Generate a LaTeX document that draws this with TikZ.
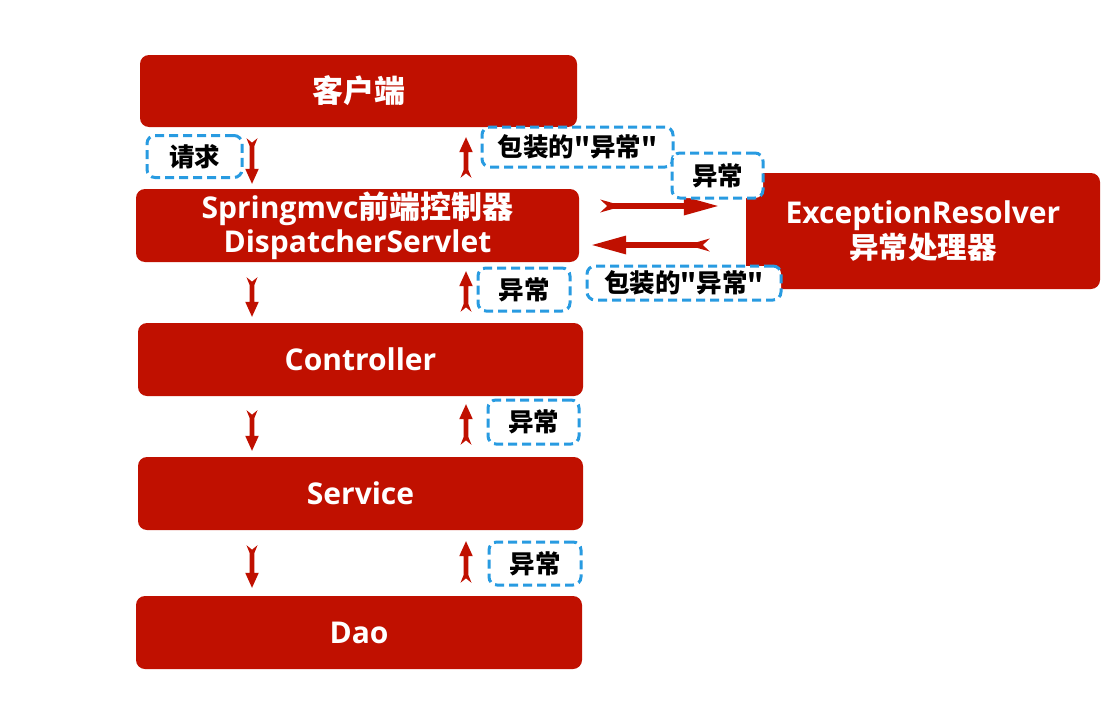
\documentclass[tikz,border=0pt]{standalone}
\usepackage{fontspec}
\setmainfont{Open Sans}
\newfontfamily\cjk{Noto Sans CJK SC}
\usetikzlibrary{calc}
\definecolor{boxred}{RGB}{192,16,0}
\definecolor{dashblue}{RGB}{40,155,225}
% points of a notched arrow, measured from the start (pA) or from the end (pB)
\newcommand\pA[2]{($(\tikztostart)!#1!(\tikztotarget)!#2!90:(\tikztotarget)$)}
\newcommand\pB[2]{($(\tikztotarget)!#1!(\tikztostart)!#2!-90:(\tikztostart)$)}
\begin{document}
\begin{tikzpicture}[x=1pt,y=-1pt,
  box/.style={fill=boxred, rounded corners=9pt, text=white, font=\bfseries\fontsize{30}{34}\selectfont, align=center, inner sep=0pt},
  lab/.style={draw=dashblue, line width=3pt, dash pattern=on 9pt off 5pt, rounded corners=8pt, fill=white, text=black, font=\cjk\bfseries\fontsize{25.5}{28}\selectfont, inner sep=0pt},
  ss/.store in=\ars, se/.store in=\are,
  hl/.store in=\arhl, hw/.store in=\arhw, wt/.store in=\arwt, wz/.store in=\arwz,
  tl/.store in=\artl, nd/.store in=\arnd,
  notched/.style={fill=boxred, to path={
     \pA{\ars+\arnd}{0pt} -- \pA{\ars}{\arwt} -- \pA{\ars+\artl}{\arwz}
     -- \pB{\are+\arhl}{\arwz} -- \pB{\are+\arhl}{\arhw} -- \pB{\are}{0pt}
     -- \pB{\are+\arhl}{-\arhw} -- \pB{\are+\arhl}{-\arwz}
     -- \pA{\ars+\artl}{-\arwz} -- \pA{\ars}{-\arwt} -- cycle}},
  varr/.style={notched, hl=15pt, hw=6.8pt, wt=5.5pt, wz=2.3pt, tl=8pt, nd=4.5pt},
  harr/.style={notched, hl=34pt, hw=9.5pt, wt=6.5pt, wz=2.8pt, tl=13pt, nd=7pt}]
\useasboundingbox (0,0) rectangle (1112,704);
\fill[white] (0,0) rectangle (1112,704);
% boxes
\node[box, minimum width=437pt, minimum height=72pt] (client) at (358.5,91) {{\cjk\fontsize{31}{34}\selectfont 客户端}};
\node[box, minimum width=443pt, minimum height=73pt] (disp) at (357.5,225.5) {Springmvc{\cjk\fontsize{31}{34}\selectfont 前端控制器}\\DispatcherServlet};
\node[box, minimum width=445pt, minimum height=73pt] (ctrl) at (360.5,359.5) {Controller};
\node[box, minimum width=445pt, minimum height=73pt] (serv) at (360.5,493.5) {Service};
\node[box, minimum width=446pt, minimum height=73pt] (dao) at (359,632.5) {Dao};
\node[box, minimum width=354pt, minimum height=116pt, font=\bfseries\fontsize{30}{35}\selectfont] (res) at (923,231) {ExceptionResolver\\{\cjk\fontsize{29.5}{35}\selectfont 异常处理器}};
% arrow columns
\coordinate (dn) at (252,0);
\coordinate (up) at (466,0);
% down arrows
\path[varr, ss=11pt, se=5pt] (dn |- client.south) to (dn |- disp.north);
\path[varr, ss=15pt, se=6pt] (dn |- disp.south) to (dn |- ctrl.north);
\path[varr, ss=14pt, se=6pt] (dn |- ctrl.south) to (dn |- serv.north);
\path[varr, ss=15pt, se=8pt] (dn |- serv.south) to (dn |- dao.north);
% up arrows
\path[varr, ss=11pt, se=10pt] (up |- disp.north) to (up |- client.south);
\path[varr, ss=11pt, se=9pt] (up |- ctrl.north) to (up |- disp.south);
\path[varr, ss=12pt, se=8pt] (up |- serv.north) to (up |- ctrl.south);
\path[varr, ss=13pt, se=11pt] (up |- dao.north) to (up |- serv.south);
% horizontal arrows
\path[harr, ss=21pt, se=28pt] ([yshift=19.5pt]disp.east) to ([yshift=19.5pt]disp.east -| res.west);
\path[harr, ss=36pt, se=13pt] ([yshift=-19.5pt]disp.east -| res.west) to ([yshift=-19.5pt]disp.east);
% labels
\node[lab, minimum width=95pt, minimum height=42pt] (req) at (194.5,156.5) {请求};
\node[lab, minimum width=191pt, minimum height=40pt] (wraptop) at (577.5,147) {包装的"异常"};
\node[lab, minimum width=91pt, minimum height=45pt] (exctop) at (717.5,175.5) {异常};
\node[lab, minimum width=92pt, minimum height=43pt] (exc1) at (524,289.5) {异常};
\node[lab, minimum width=194pt, minimum height=34pt] (wrapbot) at (684,283) {包装的"异常"};
\node[lab, minimum width=91pt, minimum height=44pt] (exc2) at (533.5,422) {异常};
\node[lab, minimum width=92pt, minimum height=43pt] (exc3) at (535,563.5) {异常};
\end{tikzpicture}
\end{document}
